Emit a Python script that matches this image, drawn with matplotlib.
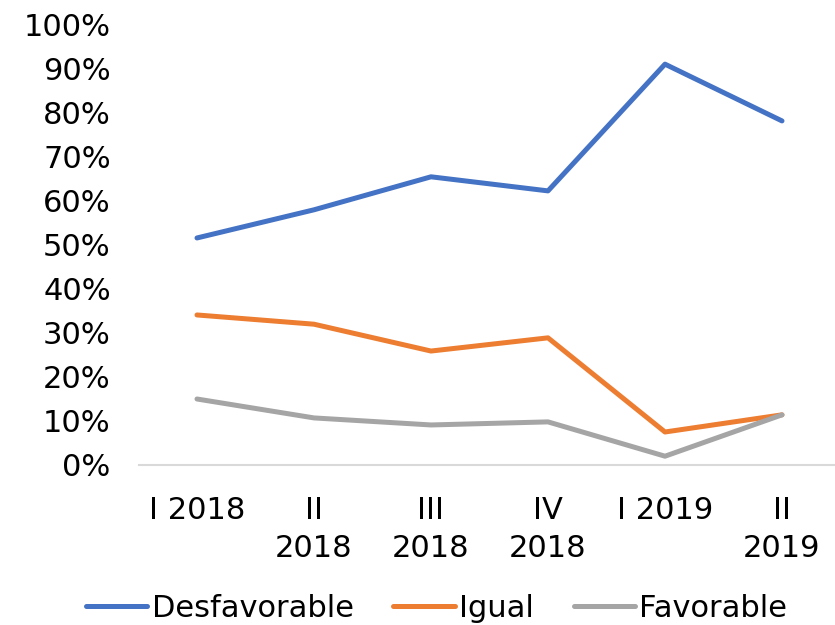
import matplotlib.pyplot as plt
from matplotlib.ticker import PercentFormatter

# --- data ---
periods = ["I 2018", "II\n2018", "III\n2018", "IV\n2018", "I 2019", "II\n2019"]
desfavorable = [0.516, 0.580, 0.655, 0.623, 0.911, 0.782]
igual = [0.341, 0.320, 0.259, 0.289, 0.075, 0.114]
favorable = [0.150, 0.107, 0.091, 0.098, 0.020, 0.114]

series = [
    ("Desfavorable", desfavorable, "#4472C4"),
    ("Igual", igual, "#ED7D31"),
    ("Favorable", favorable, "#A5A5A5"),
]

plt.rcParams['font.family'] = ['DejaVu Sans']
W, H = 835, 625
fig = plt.figure(figsize=(W / 100, H / 100), dpi=100)
ax = fig.add_axes([138.5 / W, 160 / H, (W - 138.5) / W, 440 / H])

x = range(len(periods))
for name, vals, color in series:
    ax.plot(x, vals, color=color, lw=3.6, label=name, solid_capstyle='round')

ax.set_xlim(-0.5, 5.453)
ax.set_ylim(0, 1)
ax.set_yticks([i / 10 for i in range(11)])
ax.yaxis.set_major_formatter(PercentFormatter(1.0, decimals=0))
ax.set_xticks(list(x))
ax.set_xticklabels(periods, linespacing=1.4)

for s in ["top", "right", "left"]:
    ax.spines[s].set_visible(False)
ax.spines["bottom"].set_color("#D9D9D9")
ax.spines["bottom"].set_linewidth(1.5)
ax.tick_params(axis='both', length=0, labelsize=22, colors='black')
ax.tick_params(axis='y', pad=20)
ax.tick_params(axis='x', pad=22)

fig.legend(loc='center', bbox_to_anchor=(0.523, 0.027), ncol=3, frameon=False,
           fontsize=22, handlelength=2.0, handletextpad=0.15, columnspacing=1.3)

fig.savefig("out.png", dpi=100)
